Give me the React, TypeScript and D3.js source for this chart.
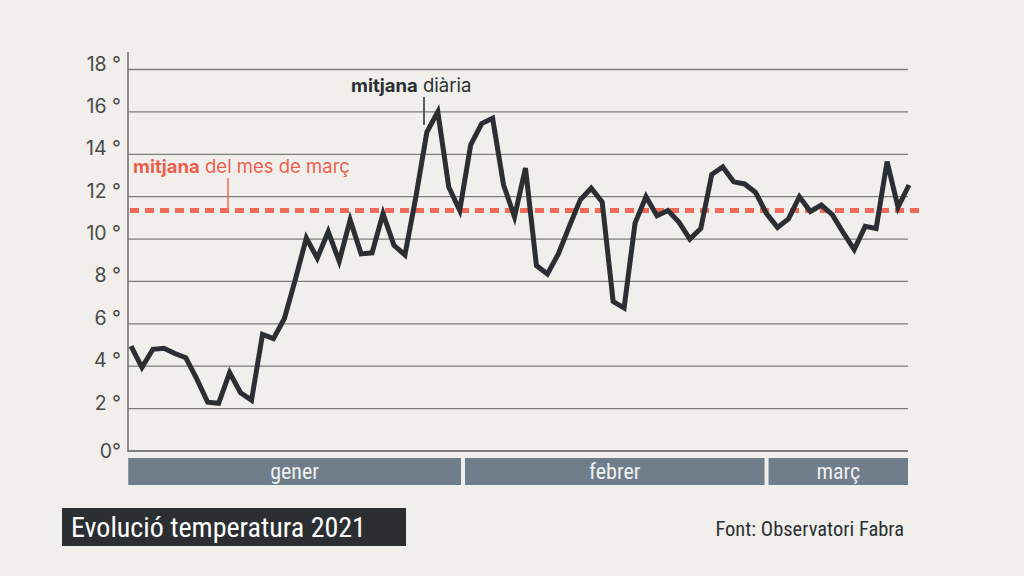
import React, { useEffect, useRef } from 'react';
import * as d3 from 'd3';

// Daily mean temperature, Observatori Fabra, 1 Jan – 13 Mar 2021
const dailyMean: number[] = [
  // gener
  4.95, 3.95, 4.8, 4.85, 4.6, 4.4, 3.4, 2.3, 2.25, 3.7,
  2.75, 2.4, 5.5, 5.3, 6.25, 8.1, 10.05, 9.1, 10.35, 8.95,
  10.9, 9.3, 9.35, 11.2, 9.7, 9.25, 12.0, 15.05, 16.0, 12.45,
  11.35,
  // febrer
  14.45, 15.45, 15.7, 12.55, 11.05, 13.35, 8.75, 8.35, 9.3, 10.6,
  11.85, 12.4, 11.75, 7.05, 6.75, 10.75, 12.0, 11.1, 11.35, 10.8,
  10.0, 10.5, 13.05, 13.4, 12.7, 12.6, 12.2, 11.2,
  // març
  10.55, 10.95, 12.0, 11.3, 11.6, 11.15, 10.3, 9.5, 10.6, 10.5,
  13.65, 11.5, 12.55,
];

const marchMean = 11.35;

const months: string[] = ['gener', 'febrer', 'març'];
// month limits on the day index axis
const monthStart: number[] = [-0.25, 30.3, 58];
const monthEnd: number[] = [30.3, 58, 71];

const yTicks: number[] = [0, 2, 4, 6, 8, 10, 12, 14, 16, 18];

const W = 1024;
const H = 576;

const App: React.FC = () => {
  const svgRef = useRef<SVGSVGElement>(null);

  useEffect(() => {
    if (!svgRef.current) return;
    const svg = d3.select(svgRef.current);
    svg.selectAll('*').remove();

    const sans = "'Inter', 'Roboto', sans-serif";
    const narrow = "'Liberation Sans Narrow', 'Roboto Condensed', 'DejaVu Sans Condensed', sans-serif";

    svg.append('rect').attr('width', W).attr('height', H).attr('fill', '#f0efeb');

    const x = d3.scaleLinear().domain([0, dailyMean.length - 1]).range([131, 909]);
    const y = d3.scaleLinear().domain([0, 18]).range([451, 69.5]);
    const left = 128;
    const right = 908;

    // grid
    svg.append('g')
      .selectAll('line')
      .data(yTicks)
      .join('line')
      .attr('x1', left)
      .attr('x2', right)
      .attr('y1', d => y(d))
      .attr('y2', d => y(d))
      .attr('stroke', '#7d7d7b')
      .attr('stroke-width', d => (d === 0 ? 2 : 1.3));

    svg.append('line')
      .attr('x1', left).attr('x2', left)
      .attr('y1', 52).attr('y2', y(0) + 1)
      .attr('stroke', '#6e6e6c')
      .attr('stroke-width', 1.5);

    svg.append('g')
      .selectAll('text')
      .data(yTicks)
      .join('text')
      .attr('x', 121)
      .attr('y', d => (d === 0 ? y(d) + 7 : y(d) + 1))
      .attr('text-anchor', 'end')
      .style('font-family', sans)
      .style('font-size', '19.5px')
      .style('fill', '#4a4a4a')
      .text(d => (d === 0 ? '0°' : `${d} °`));

    // month bands
    const band = svg.append('g');
    months.forEach((m, i) => {
      const x0 = x(monthStart[i]) + (i === 0 ? 0 : 2);
      const x1 = i === months.length - 1 ? right : x(monthEnd[i]) - 2;
      band.append('rect')
        .attr('x', x0)
        .attr('y', 458)
        .attr('width', x1 - x0)
        .attr('height', 27)
        .attr('fill', '#6f7e8a');
      band.append('text')
        .attr('x', (x0 + x1) / 2)
        .attr('y', 479)
        .attr('text-anchor', 'middle')
        .style('font-family', narrow)
        .style('font-size', '22px')
        .style('fill', '#eef0f2')
        .text(m);
    });

    // monthly mean
    svg.append('line')
      .attr('x1', left + 2)
      .attr('x2', 921)
      .attr('y1', y(marchMean))
      .attr('y2', y(marchMean))
      .attr('stroke', '#ef6a58')
      .attr('stroke-width', 5)
      .attr('stroke-dasharray', '9 6');

    svg.append('line')
      .attr('x1', 228).attr('x2', 228)
      .attr('y1', 178).attr('y2', y(marchMean))
      .attr('stroke', '#ef6a58')
      .attr('stroke-width', 1.5);

    const redLabel = svg.append('text')
      .attr('x', 133)
      .attr('y', 173)
      .style('font-family', sans)
      .style('font-size', '18.5px')
      .style('fill', '#e9604f');
    redLabel.append('tspan').style('font-weight', 700).text('mitjana');
    redLabel.append('tspan').text(' del mes de març');

    // daily line
    const line = d3.line<number>()
      .x((_, i) => x(i))
      .y(d => y(d));

    svg.append('path')
      .datum(dailyMean)
      .attr('d', line)
      .attr('fill', 'none')
      .attr('stroke', '#2b2f33')
      .attr('stroke-width', 5)
      .attr('stroke-linejoin', 'miter')
      .attr('stroke-miterlimit', 4);

    svg.append('line')
      .attr('x1', 424).attr('x2', 424)
      .attr('y1', 97).attr('y2', 125)
      .attr('stroke', '#2b2f33')
      .attr('stroke-width', 1.5);

    const darkLabel = svg.append('text')
      .attr('x', 351)
      .attr('y', 92)
      .style('font-family', sans)
      .style('font-size', '18.5px')
      .style('fill', '#2b2f33');
    darkLabel.append('tspan').style('font-weight', 700).text('mitjana');
    darkLabel.append('tspan').text(' diària');

    // title and source
    svg.append('rect')
      .attr('x', 62).attr('y', 508)
      .attr('width', 344).attr('height', 38)
      .attr('fill', '#2b2f32');
    svg.append('text')
      .attr('x', 71)
      .attr('y', 537)
      .style('font-family', narrow)
      .style('font-size', '28px')
      .style('fill', '#ffffff')
      .text('Evolució temperatura 2021');

    svg.append('text')
      .attr('x', 904)
      .attr('y', 536)
      .attr('text-anchor', 'end')
      .style('font-family', narrow)
      .style('font-size', '20.5px')
      .style('fill', '#2b2f32')
      .text('Font: Observatori Fabra');
  }, []);

  return (
    <svg
      ref={svgRef}
      width={W}
      height={H}
      style={{ position: 'absolute', left: 0, top: 0, display: 'block' }}
    />
  );
};

export default App;
